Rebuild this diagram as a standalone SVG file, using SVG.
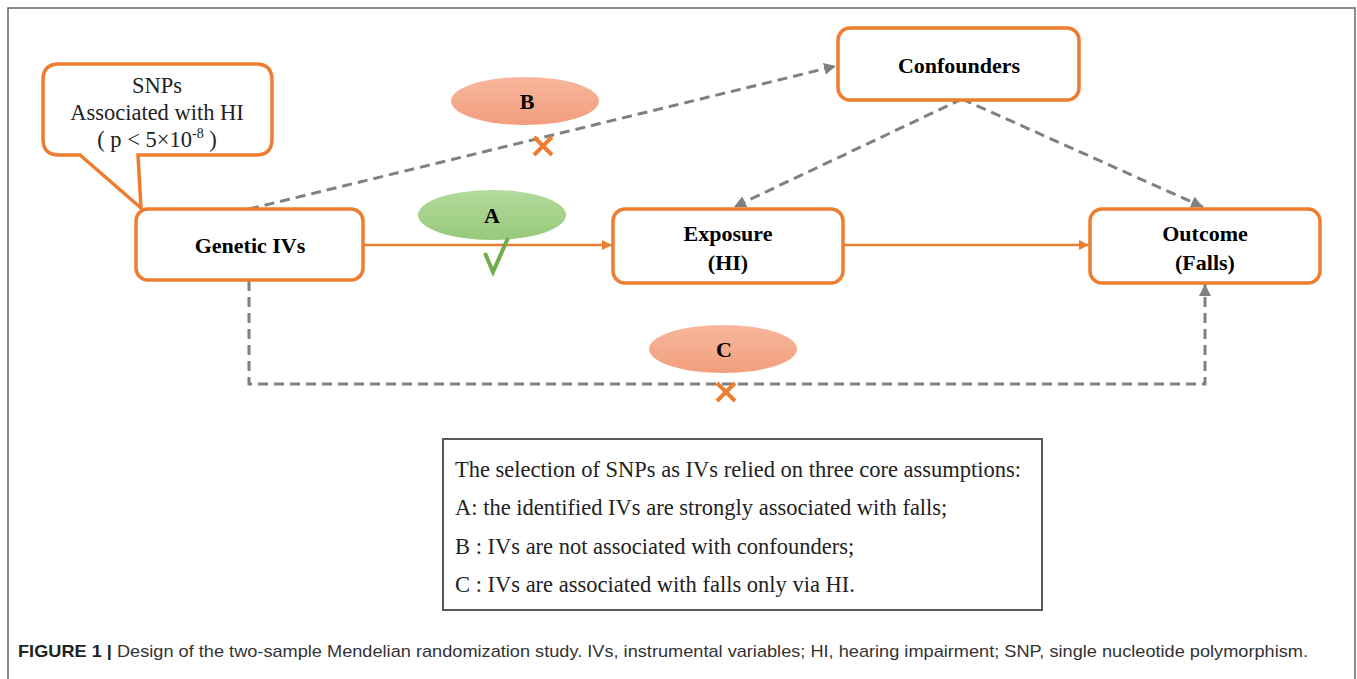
<svg xmlns="http://www.w3.org/2000/svg" width="1357" height="679" viewBox="0 0 1357 679">
<defs>
<style>
.box{fill:#fff;stroke:#ed7d31;stroke-width:3.5}
.lbl{font-family:"Liberation Serif","Times New Roman",serif;font-weight:bold;font-size:22px;fill:#000;text-anchor:middle}
.reg{font-family:"Liberation Serif","Times New Roman",serif;font-size:22.5px;fill:#222}
.dash{fill:none;stroke:#808080;stroke-width:3;stroke-dasharray:10 6}
.solid{fill:none;stroke:#ed7d31;stroke-width:2.5}
.xm{stroke:#ed7d31;stroke-width:4;fill:none}
</style>
<marker id="ao" viewBox="0 0 10 10" refX="10" refY="5" markerWidth="4" markerHeight="4" orient="auto" markerUnits="strokeWidth">
<path d="M0,0 L10,5 L0,10 z" fill="#ed7d31"/>
</marker>
<marker id="ag" viewBox="0 0 10 10" refX="10" refY="5" markerWidth="4" markerHeight="4" orient="auto" markerUnits="strokeWidth">
<path d="M0,0 L10,5 L0,10 z" fill="#808080"/>
</marker>
<linearGradient id="gs" x1="0" y1="0" x2="0" y2="1">
<stop offset="0" stop-color="#f7b79c"/>
<stop offset="1" stop-color="#f29e7e"/>
</linearGradient>
<linearGradient id="gg" x1="0" y1="0" x2="0" y2="1">
<stop offset="0" stop-color="#b3da9b"/>
<stop offset="1" stop-color="#97c97b"/>
</linearGradient>
</defs>
<rect width="1357" height="679" fill="#fff"/>
<path d="M8,679 V8 H1355 V679" fill="none" stroke="#666" stroke-width="1.5"/>

<g id="connectors">
<line class="solid" x1="363" y1="245" x2="612" y2="245" marker-end="url(#ao)"/>
<line class="solid" x1="843" y1="245" x2="1089" y2="245" marker-end="url(#ao)"/>
<line class="dash" x1="249" y1="209" x2="836" y2="66" marker-end="url(#ag)"/>
<line class="dash" x1="962" y1="99" x2="734" y2="207" marker-end="url(#ag)"/>
<line class="dash" x1="962" y1="99" x2="1203" y2="207" marker-end="url(#ag)"/>
<polyline class="dash" points="249,281 249,384 1205,384 1205,284" marker-end="url(#ag)"/>
</g>

<g id="callout">
<path class="box" d="M59,64 H256 Q272,64 272,80 V139 Q272,155 256,155 H138 L141,208 L80,155 H59 Q43,155 43,139 V80 Q43,64 59,64 Z"/>
<text class="reg" x="157" y="93" text-anchor="middle" font-size="23.5">SNPs</text>
<text class="reg" x="157" y="120" text-anchor="middle" font-size="23.5">Associated with HI</text>
<text class="reg" x="157" y="147" text-anchor="middle" font-size="23.5">( p &lt; 5×10<tspan font-size="14" dy="-9">-8</tspan><tspan dy="9"> )</tspan></text>
</g>

<g id="genetic">
<rect class="box" x="136" y="209" width="227" height="71" rx="12"/>
<text class="lbl" x="250" y="253">Genetic IVs</text>
</g>

<g id="exposure">
<rect class="box" x="613" y="209" width="230" height="74" rx="12"/>
<text class="lbl" x="728" y="241">Exposure</text>
<text class="lbl" x="728" y="270">(HI)</text>
</g>

<g id="confounders">
<rect class="box" x="838" y="28" width="241" height="72" rx="12"/>
<text class="lbl" x="959" y="73">Confounders</text>
</g>

<g id="outcome">
<rect class="box" x="1090" y="209" width="230" height="74" rx="12"/>
<text class="lbl" x="1205" y="241">Outcome</text>
<text class="lbl" x="1205" y="270">(Falls)</text>
</g>

<g id="ellipseB">
<ellipse cx="525" cy="101" rx="74" ry="24" fill="url(#gs)"/>
<text class="lbl" x="527" y="109">B</text>
<path class="xm" d="M534,137 L552,155 M552,137 L534,155"/>
</g>

<g id="ellipseA">
<ellipse cx="492" cy="215" rx="74" ry="25" fill="url(#gg)"/>
<text class="lbl" x="492" y="223">A</text>
<path d="M485,253 L493,272 L508,238" fill="none" stroke="#70ad47" stroke-width="4"/>
</g>

<g id="ellipseC">
<ellipse cx="723" cy="349" rx="74" ry="24" fill="url(#gs)"/>
<text class="lbl" x="724" y="357">C</text>
<path class="xm" d="M717,383 L735,401 M735,383 L717,401"/>
</g>

<g id="legend">
<rect x="443" y="439" width="599" height="171" fill="#fff" stroke="#595959" stroke-width="2"/>
<text class="reg" x="455" y="477">The selection of SNPs as IVs relied on three core assumptions:</text>
<text class="reg" x="455" y="515">A: the identified IVs are strongly associated with falls;</text>
<text class="reg" x="455" y="554">B : IVs are not associated with confounders;</text>
<text class="reg" x="455" y="592">C : IVs are associated with falls only via HI.</text>
</g>

<text x="18" y="657" font-family="'Liberation Sans',Arial,sans-serif" font-size="17" fill="#333" textLength="1290" lengthAdjust="spacingAndGlyphs"><tspan font-weight="bold" fill="#222">FIGURE 1 |</tspan> Design of the two-sample Mendelian randomization study. IVs, instrumental variables; HI, hearing impairment; SNP, single nucleotide polymorphism.</text>
</svg>
